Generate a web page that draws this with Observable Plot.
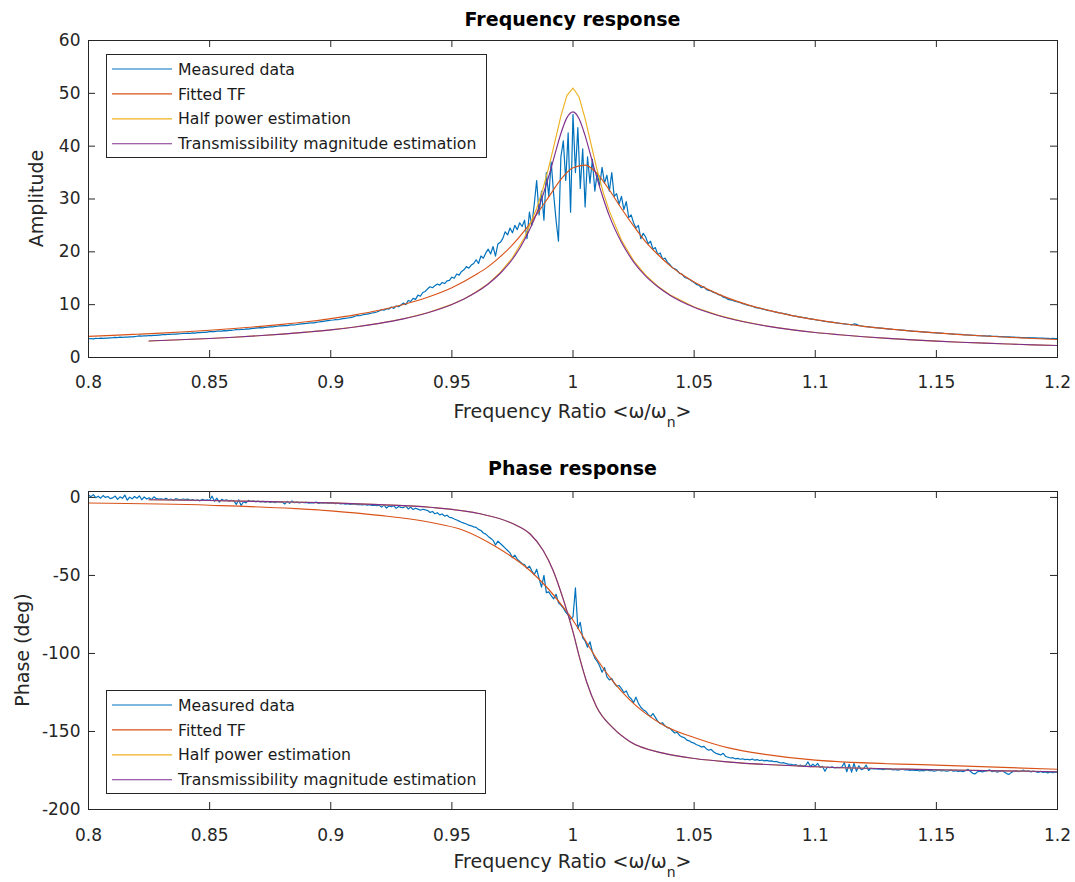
<!DOCTYPE html>
<html><head><meta charset="utf-8">
<script src="https://cdn.jsdelivr.net/npm/d3@7"></script>
<script src="https://cdn.jsdelivr.net/npm/@observablehq/plot@0.6"></script>
<style>
html,body{margin:0;padding:0;background:#fff;}
#chart{position:relative;width:1075px;height:882px;overflow:hidden;background:#fff;}
#chart > svg{position:absolute;left:0;}
</style></head>
<body><div id="chart"></div>
<script>
// ---------------- data ----------------
const seriesNames = ["Measured data", "Fitted TF", "Half power estimation", "Transmissibility magnitude estimation"];
const seriesColors = ["#0072BD", "#D95319", "#EDB120", "#7E2F8E"];

const xTicks = [0.8, 0.85, 0.9, 0.95, 1, 1.05, 1.1, 1.15, 1.2];
const xTickLabels = ["0.8", "0.85", "0.9", "0.95", "1", "1.05", "1.1", "1.15", "1.2"];
const ampTicks = [0, 10, 20, 30, 40, 50, 60];
const ampTickLabels = ["0", "10", "20", "30", "40", "50", "60"];
const phaseTicks = [-200, -150, -100, -50, 0];
const phaseTickLabels = ["-200", "-150", "-100", "-50", "0"];

// measured data sampled every 0.001 from 0.800 to 1.200
const measuredStart = 0.8, measuredStep = 0.001;
const measuredAmp = [
3.55,3.58,3.54,3.62,3.60,3.65,3.63,3.68,3.66,3.72,
3.75,3.80,3.78,3.84,3.82,3.88,3.85,3.92,3.90,3.96,
4.02,4.08,4.05,4.12,4.10,4.16,4.13,4.20,4.18,4.24,
4.30,4.35,4.33,4.40,4.37,4.45,4.42,4.48,4.50,4.55,
4.55,4.62,4.58,4.66,4.63,4.72,4.70,4.76,4.74,4.82,
4.88,4.92,4.90,4.98,5.02,4.98,5.08,5.05,5.12,5.15,
5.20,5.28,5.25,5.33,5.30,5.40,5.38,5.45,5.50,5.55,
5.60,5.66,5.62,5.72,5.75,5.80,5.78,5.88,5.92,5.98,
6.00,6.06,6.03,6.12,6.18,6.15,6.25,6.30,6.35,6.40,
6.45,6.52,6.58,6.55,6.65,6.72,6.78,6.85,6.92,6.98,
7.05,7.10,7.18,7.15,7.28,7.35,7.42,7.48,7.55,7.65,
7.80,7.95,7.90,8.05,8.15,8.22,8.30,8.42,8.50,8.62,
8.80,9.05,8.95,9.25,9.15,9.55,9.30,9.75,9.60,9.95,
10.3,10.0,10.8,10.6,11.2,11.0,11.8,11.6,12.3,12.5,
13.0,13.4,13.2,13.6,13.9,13.7,14.2,14.0,14.5,14.6,
15.2,15.0,15.8,15.6,16.3,16.6,17.2,16.9,17.5,17.8,
18.5,17.8,19.2,18.8,19.8,20.5,19.6,21.0,19.2,21.5,
21.8,22.5,23.8,23.2,24.5,23.6,25.0,24.2,25.5,24.8,
26.0,22.5,27.5,25.0,29.0,33.5,27.0,31.5,26.0,35.0,
30.5,37.0,31.0,26.0,22.0,38.0,41.0,33.5,42.5,27.5,
46.0,35.0,43.5,32.0,39.5,28.5,38.0,33.0,37.5,31.5,
35.0,32.5,36.0,33.0,34.5,31.5,35.0,30.5,31.0,29.0,
30.5,28.0,29.5,26.5,27.0,25.5,24.5,25.0,22.5,23.5,
22.8,21.5,22.0,20.5,20.8,19.5,19.8,18.6,18.8,18.0,
17.6,17.0,16.8,16.5,15.9,15.8,15.2,15.0,14.8,14.5,
14.2,13.8,13.7,13.2,13.4,12.9,12.7,12.6,12.3,12.2,
11.9,11.8,11.4,11.3,11.0,10.9,10.8,10.6,10.5,10.4,
10.2,10.1,9.9,9.8,9.7,9.5,9.4,9.35,9.2,9.1,
8.98,8.85,8.8,8.65,8.6,8.45,8.42,8.3,8.2,8.1,
7.98,7.88,7.82,7.7,7.65,7.55,7.5,7.4,7.32,7.25,
7.15,7.05,7.0,6.92,6.85,6.8,6.72,6.68,6.6,6.55,
6.48,6.42,6.38,6.3,6.25,6.18,6.35,6.28,6.05,5.96,
5.88,5.84,5.8,5.74,5.7,5.64,5.6,5.55,5.5,5.46,
5.42,5.38,5.33,5.3,5.25,5.2,5.17,5.12,5.08,5.04,
5.0,4.96,4.93,4.9,4.86,4.82,4.79,4.75,4.72,4.68,
4.66,4.62,4.6,4.56,4.54,4.5,4.48,4.44,4.4,4.38,
4.36,4.32,4.3,4.26,4.25,4.2,4.18,4.15,4.12,4.1,
4.08,4.06,4.1,4.02,4.0,3.98,3.95,3.94,3.92,3.9,
3.9,3.86,3.85,3.82,3.8,3.78,3.78,3.74,3.75,3.72,
3.72,3.7,3.68,3.66,3.65,3.62,3.63,3.6,3.61,3.58,
3.58];
const measuredPhase = [
1.5,0.5,1.8,-0.2,0.8,-0.5,1.2,0.0,0.6,-0.8,
-0.3,0.9,-1.2,0.4,-0.6,1.5,-1.8,0.2,-0.9,0.6,
-0.5,1.0,-1.5,0.3,-1.0,-0.2,-1.4,0.4,-0.8,-1.1,
-0.9,-1.3,-0.6,-1.5,-1.0,-1.8,-0.8,-1.2,-1.6,-1.0,
-1.4,-1.1,-1.8,-1.3,-2.0,-1.5,-2.2,-1.2,-1.9,-1.6,
-1.8,0.8,-2.5,-0.5,-3.0,-1.2,-2.0,-1.5,-2.4,-1.8,
-2.2,-4.5,-1.5,-5.2,-2.8,-3.5,-1.9,-2.6,-2.2,-2.8,
-2.4,-2.9,-2.5,-3.0,-2.6,-3.2,-2.7,-3.3,-2.8,-3.1,
-2.9,-4.2,-2.5,-3.8,-2.2,-3.4,-3.0,-3.5,-3.1,-3.3,
-3.2,-3.6,-3.3,-3.5,-3.0,-3.8,-3.4,-3.6,-3.3,-3.9,
-3.5,-3.7,-4.0,-3.6,-4.2,-3.9,-4.3,-4.0,-4.4,-4.1,
-4.3,-4.6,-4.4,-4.8,-4.5,-5.0,-4.7,-5.1,-4.9,-5.3,
-5.0,-6.2,-4.8,-6.8,-5.5,-6.0,-5.2,-7.0,-5.8,-6.4,
-6.5,-5.6,-7.4,-6.2,-7.8,-6.9,-7.5,-8.2,-7.6,-8.0,
-8.4,-9.6,-9.0,-10.5,-9.8,-11.2,-10.6,-12.0,-11.4,-12.8,
-13.0,-13.8,-14.5,-15.2,-15.9,-16.5,-17.0,-17.8,-18.2,-18.9,
-19.2,-20.5,-21.2,-22.8,-23.5,-25.0,-26.2,-27.5,-30.5,-28.0,
-29.5,-31.0,-32.5,-34.0,-35.5,-38.6,-37.0,-39.5,-41.0,-42.5,
-43.0,-45.5,-44.0,-47.0,-49.5,-46.0,-52.0,-57.5,-50.0,-61.0,
-60.5,-63.0,-65.0,-62.0,-67.5,-69.0,-71.0,-73.5,-75.5,-78.0,
-76.5,-58.0,-84.0,-80.0,-90.0,-92.0,-96.0,-92.5,-99.0,-103.0,
-105.0,-108.0,-112.0,-109.0,-115.0,-117.0,-116.0,-119.0,-121.0,-120.5,
-122.5,-125.0,-124.0,-127.5,-129.0,-131.5,-128.0,-132.0,-134.5,-136.0,
-137.0,-139.0,-140.5,-138.5,-141.0,-143.5,-145.0,-144.5,-146.5,-147.5,
-148.0,-149.5,-151.0,-150.5,-152.5,-153.5,-154.0,-155.5,-156.0,-157.0,
-157.5,-158.5,-159.0,-160.0,-159.5,-161.0,-162.0,-161.5,-163.0,-164.0,
-164.5,-165.0,-164.0,-166.0,-166.5,-167.0,-166.8,-167.5,-167.2,-167.8,
-167.5,-168.0,-167.8,-168.2,-167.6,-168.4,-168.0,-168.6,-168.3,-168.8,
-168.5,-169.0,-168.8,-169.4,-169.2,-169.8,-170.2,-170.0,-170.6,-170.9,
-171.0,-171.5,-171.3,-172.0,-171.6,-172.2,-171.8,-169.5,-172.5,-171.0,
-172.2,-170.5,-173.0,-172.4,-175.5,-172.8,-173.2,-172.6,-173.4,-173.0,
-173.2,-172.8,-170.0,-175.8,-171.0,-176.0,-170.5,-175.5,-172.0,-174.5,
-173.8,-171.5,-175.0,-173.6,-174.0,-173.8,-174.2,-174.0,-174.4,-174.1,
-174.2,-174.0,-174.6,-174.3,-174.8,-174.5,-174.2,-174.7,-174.4,-174.9,
-174.6,-175.0,-174.8,-175.3,-174.9,-175.2,-174.7,-175.1,-175.0,-175.4,
-175.1,-174.6,-175.3,-175.0,-175.5,-175.2,-174.8,-175.4,-175.1,-175.6,
-175.3,-175.7,-175.2,-174.2,-175.5,-176.8,-177.2,-175.8,-175.4,-175.9,
-175.5,-175.2,-174.6,-175.8,-175.3,-176.0,-175.6,-175.2,-175.9,-177.0,
-177.5,-176.2,-175.4,-175.0,-175.8,-175.3,-174.8,-175.6,-175.2,-175.9,
-175.4,-175.8,-176.2,-175.6,-176.3,-175.9,-176.5,-176.0,-176.4,-176.2,
-176.0];

// fitted transfer function, amplitude
const fittedAmpFreq = [0.80,0.81,0.82,0.83,0.84,0.85,0.86,0.87,0.88,0.89,0.90,0.91,0.92,0.93,0.94,0.95,0.96,0.965,0.97,0.975,0.98,0.985,0.99,0.995,1.0,1.005,1.01,1.015,1.02,1.025,1.03,1.035,1.04,1.045,1.05,1.06,1.07,1.08,1.09,1.10,1.11,1.12,1.13,1.14,1.15,1.16,1.17,1.18,1.19,1.20];
const fittedAmp = [4.01,4.19,4.40,4.62,4.87,5.16,5.48,5.85,6.28,6.77,7.37,8.08,8.94,10.03,11.4,13.2,15.7,17.2,19.1,21.3,24.0,27.1,30.4,33.7,35.9,36.4,34.8,31.7,28.2,24.9,21.9,19.5,17.4,15.7,14.3,12.0,10.3,9.01,7.98,7.16,6.48,5.90,5.42,5.00,4.65,4.34,4.06,3.82,3.60,3.40];

// half power estimation, amplitude
const halfPowerFreq = [0.825,0.83,0.84,0.85,0.86,0.87,0.88,0.89,0.90,0.91,0.92,0.93,0.94,0.95,0.955,0.96,0.965,0.97,0.975,0.98,0.985,0.9875,0.99,0.9925,0.995,0.9975,1.0,1.0025,1.005,1.0075,1.01,1.0125,1.015,1.02,1.025,1.03,1.035,1.04,1.05,1.06,1.07,1.08,1.09,1.10,1.11,1.12,1.13,1.14,1.15,1.16,1.17,1.18,1.19,1.20];
const halfPowerAmp = [3.13,3.21,3.40,3.60,3.84,4.11,4.43,4.81,5.24,5.78,6.46,7.33,8.47,10.06,11.09,12.40,13.97,16.11,18.88,22.72,28.2,31.8,36.0,40.8,45.7,49.6,51.0,49.3,45.2,40.3,35.4,31.2,27.7,22.2,18.36,15.59,13.5,11.89,9.55,7.97,6.83,5.96,5.28,4.74,4.31,3.93,3.61,3.34,3.10,2.89,2.71,2.55,2.40,2.27];

// transmissibility magnitude estimation, amplitude
const transFreq = [0.825,0.83,0.84,0.85,0.86,0.87,0.88,0.89,0.90,0.91,0.92,0.93,0.94,0.95,0.955,0.96,0.965,0.97,0.975,0.98,0.985,0.9875,0.99,0.9925,0.995,0.9975,1.0,1.0025,1.005,1.0075,1.01,1.0125,1.015,1.02,1.025,1.03,1.035,1.04,1.05,1.06,1.07,1.08,1.09,1.10,1.11,1.12,1.13,1.14,1.15,1.16,1.17,1.18,1.19,1.20];
const transAmp = [3.13,3.21,3.40,3.60,3.84,4.11,4.43,4.81,5.24,5.78,6.46,7.32,8.46,10.04,11.07,12.33,13.92,15.95,18.6,22.3,27.3,30.6,34.3,38.4,42.4,45.4,46.5,45.2,42.0,37.9,33.8,30.1,26.8,21.8,18.11,15.4,13.4,11.8,9.52,7.96,6.82,5.95,5.27,4.73,4.31,3.93,3.61,3.34,3.10,2.89,2.71,2.55,2.40,2.27];

// phase curves
const fittedPhaseFreq = [0.80,0.85,0.90,0.92,0.9409,0.9547,0.9684,0.9822,0.9891,0.9959,1.0,1.0042,1.0097,1.0166,1.0234,1.0372,1.0509,1.0647,1.08,1.10,1.15,1.20];
const fittedPhase = [-3.6,-5.0,-8.6,-11.5,-15.9,-21.0,-31.8,-46.8,-57.4,-70.2,-78.7,-89.3,-103.2,-118.1,-129.8,-145.8,-154.3,-160.7,-164.8,-168.4,-171.6,-174.2];
const transPhaseFreq = [0.825,0.85,0.875,0.90,0.92,0.9409,0.9616,0.9753,0.9822,0.9877,0.9918,0.9959,1.0,1.0028,1.0056,1.0097,1.0166,1.0234,1.0372,1.0509,1.0647,1.10,1.15,1.20];
const transPhase = [-1.5,-2.0,-2.7,-3.5,-4.6,-6.3,-10.5,-16.9,-23.3,-34.0,-46.8,-64.9,-86.2,-103.2,-118.1,-134.1,-147.9,-156.4,-163.9,-167.5,-169.6,-172.6,-174.5,-175.8];
// the half power phase coincides with the transmissibility phase (hidden beneath it)
const halfPowerPhaseFreq = transPhaseFreq;
const halfPowerPhase = transPhase;

// ---------------- tables ----------------
const measuredFreq = measuredAmp.map((_, i) => Math.round((measuredStart + i * measuredStep) * 1000) / 1000);
const measured = measuredFreq.map((f, i) => ({f, amp: measuredAmp[i], phase: measuredPhase[i]}));
const zip = (xs, ys) => xs.map((f, i) => ({f, v: ys[i]}));
const fittedAmpRows = zip(fittedAmpFreq, fittedAmp);
const halfAmpRows = zip(halfPowerFreq, halfPowerAmp);
const transAmpRows = zip(transFreq, transAmp);
const fittedPhaseRows = zip(fittedPhaseFreq, fittedPhase);
const halfPhaseRows = zip(halfPowerPhaseFreq, halfPowerPhase);
const transPhaseRows = zip(transPhaseFreq, transPhase);

// ---------------- drawing ----------------
const FONT = '"DejaVu Sans", sans-serif';
const AXIS = "#262626";
const W = 1075, mL = 88, mR = 18;
const plotW = W - mL - mR;
const TICK = 7;
const SW = 1.15;
const xLabelOf = new Map(xTicks.map((t, i) => [t, xTickLabels[i]]));

function panel(o) {
  const plotH = o.height - o.marginTop - o.marginBottom;
  const yLabelOf = new Map(o.yTicks.map((t, i) => [t, o.yTickLabels[i]]));
  return Plot.plot({
    width: W, height: o.height,
    marginLeft: mL, marginRight: mR, marginTop: o.marginTop, marginBottom: o.marginBottom,
    style: {fontFamily: FONT, fontSize: "17px", color: AXIS, background: "transparent", overflow: "visible"},
    x: {domain: [0.8, 1.2]},
    y: {domain: o.yDomain},
    marks: [
      Plot.axisX({ticks: xTicks, tickFormat: d => xLabelOf.get(d), tickSize: 0, tickPadding: o.xPad, label: null, fontSize: 17}),
      Plot.axisY({ticks: o.yTicks, tickFormat: d => yLabelOf.get(d), tickSize: 0, tickPadding: 8, label: null, fontSize: 17}),
      ...o.lines,
      Plot.frame({stroke: AXIS, strokeWidth: 1}),
      Plot.ruleX(xTicks, {x: d => d, insetTop: plotH - TICK, stroke: AXIS}),
      Plot.ruleX(xTicks, {x: d => d, insetBottom: plotH - TICK, stroke: AXIS}),
      Plot.ruleY(o.yTicks, {y: d => d, insetRight: plotW - TICK, stroke: AXIS}),
      Plot.ruleY(o.yTicks, {y: d => d, insetLeft: plotW - TICK, stroke: AXIS})
    ]
  });
}

const ampPanel = panel({
  height: 440, marginTop: 40, marginBottom: 83, xPad: 18,
  yDomain: [0, 60], yTicks: ampTicks, yTickLabels: ampTickLabels,
  lines: [
    Plot.line(measured, {x: "f", y: "amp", stroke: seriesColors[0], strokeWidth: 1.2, clip: true}),
    Plot.line(fittedAmpRows, {x: "f", y: "v", stroke: seriesColors[1], strokeWidth: SW, curve: "monotone-x", clip: true}),
    Plot.line(halfAmpRows, {x: "f", y: "v", stroke: seriesColors[2], strokeWidth: SW, curve: "linear", clip: true}),
    Plot.line(transAmpRows, {x: "f", y: "v", stroke: seriesColors[3], strokeWidth: SW, curve: "monotone-x", clip: true})
  ]
});
const phasePanel = panel({
  height: 442, marginTop: 51, marginBottom: 73, xPad: 19,
  yDomain: [-200, 3.8], yTicks: phaseTicks, yTickLabels: phaseTickLabels,
  lines: [
    Plot.line(measured, {x: "f", y: "phase", stroke: seriesColors[0], strokeWidth: 1.2, clip: true}),
    Plot.line(fittedPhaseRows, {x: "f", y: "v", stroke: seriesColors[1], strokeWidth: SW, curve: "monotone-x", clip: true}),
    Plot.line(halfPhaseRows, {x: "f", y: "v", stroke: seriesColors[2], strokeWidth: SW, curve: "monotone-x", clip: true}),
    Plot.line(transPhaseRows, {x: "f", y: "v", stroke: seriesColors[3], strokeWidth: SW, curve: "monotone-x", clip: true})
  ]
});

const chartDiv = document.getElementById("chart");
ampPanel.style.top = "0px";
phasePanel.style.top = "440px";
chartDiv.append(ampPanel, phasePanel);

// overlay: titles, axis labels, legends
const ov = d3.create("svg").attr("width", W).attr("height", 882)
  .style("top", "0px").style("pointer-events", "none")
  .attr("font-family", FONT);
const cx = mL + plotW / 2;

function addTitle(text, y) {
  ov.append("text").attr("x", cx).attr("y", y).attr("text-anchor", "middle")
    .attr("font-size", 19).attr("font-weight", "bold").attr("fill", "#000").text(text);
}
function addXLabel(y) {
  const t = ov.append("text").attr("x", cx).attr("y", y).attr("text-anchor", "middle")
    .attr("font-size", 19).attr("fill", AXIS);
  t.append("tspan").text("Frequency Ratio <ω/ω");
  t.append("tspan").attr("font-size", 14).attr("dy", 9).text("n");
  t.append("tspan").attr("dy", -9).text(">");
}
function addYLabel(text, x, y) {
  ov.append("text").attr("transform", `translate(${x},${y}) rotate(-90)`).attr("text-anchor", "middle")
    .attr("font-size", 19).attr("fill", AXIS).text(text);
}
function addLegend(x0, y0, x1, y1) {
  const g = ov.append("g");
  g.append("rect").attr("x", x0 + 0.5).attr("y", y0 + 0.5).attr("width", x1 - x0).attr("height", y1 - y0)
    .attr("fill", "#fff").attr("stroke", AXIS).attr("stroke-width", 1);
  seriesNames.forEach((name, i) => {
    const cy = y0 + 15 + i * 24.9;
    g.append("line").attr("x1", x0 + 6).attr("x2", x0 + 66).attr("y1", cy).attr("y2", cy)
      .attr("stroke", seriesColors[i]).attr("stroke-width", SW);
    g.append("text").attr("x", x0 + 72).attr("y", cy + 5.6).attr("font-size", 15.7)
      .attr("fill", "#1a1a1a").text(name);
  });
}

addTitle("Frequency response", 26);
addTitle("Phase response", 475);
addXLabel(418);
addXLabel(868);
addYLabel("Amplitude", 43, 198.5);
addYLabel("Phase (deg)", 28.5, 650);
addLegend(106, 54, 486, 157);
addLegend(106, 690, 485, 793);

chartDiv.append(ov.node());
</script>
</body></html>
